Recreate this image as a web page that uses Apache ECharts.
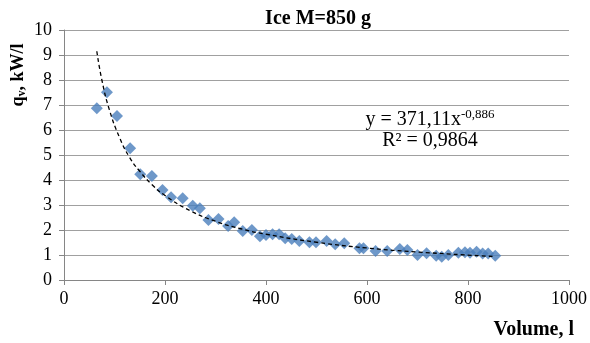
<!DOCTYPE html>
<html><head><meta charset="utf-8">
<script src="https://cdn.jsdelivr.net/npm/echarts@6/dist/echarts.min.js"></script>
<style>html,body{margin:0;padding:0;background:#fff}#c{width:590px;height:343px}</style>
</head><body><div id="c"></div>
<script>
const volume = [65,85,105,131,151,174,195,212,235,255,269,286,306,325,337,354,372,388,400,413,426,438,451,466,486,499,520,537,555,585,593,617,640,665,680,700,718,737,748,761,781,794,804,817,829,840,854];
const qv = [6.87,7.51,6.56,5.27,4.23,4.16,3.6,3.31,3.27,2.97,2.87,2.4,2.44,2.16,2.31,1.96,2.0,1.75,1.8,1.83,1.83,1.67,1.64,1.56,1.51,1.51,1.56,1.43,1.47,1.27,1.27,1.16,1.16,1.24,1.2,1.0,1.07,0.97,0.93,1.0,1.09,1.11,1.09,1.13,1.06,1.06,0.97];
const trendX = [65,75,90,110,130,150,175,200,250,300,350,400,500,600,700,850];
const trendY = [9.15,8.0,6.8,5.7,4.9,4.35,3.8,3.38,2.77,2.35,2.05,1.83,1.51,1.28,1.12,0.94];
const xTicks = [0,200,400,600,800,1000];
const yTicks = [0,1,2,3,4,5,6,7,8,9,10];
const titleText = 'Ice M=850 g';
const eqText = 'y = 371,11x';
const eqExp = '-0,886';
const r2Text = 'R² = 0,9864';

const serif = '"Liberation Serif","Times New Roman",serif';
const chart = echarts.init(document.getElementById('c'), null, {renderer:'canvas'});
chart.setOption({
  animation:false,
  backgroundColor:'#fff',
  grid:{left:64,right:21,top:30,bottom:63,containLabel:false},
  xAxis:{type:'value',min:xTicks[0],max:xTicks[xTicks.length-1],interval:200,
    axisLine:{lineStyle:{color:'#868686'}},
    axisTick:{show:true,length:5,lineStyle:{color:'#868686'}},
    splitLine:{show:false},
    axisLabel:{color:'#000',fontFamily:serif,fontSize:18,margin:10,formatter:v=>String(v)}},
  yAxis:{type:'value',min:yTicks[0],max:yTicks[yTicks.length-1],interval:1,
    axisLine:{show:true,lineStyle:{color:'#868686'}},
    axisTick:{show:true,length:5,lineStyle:{color:'#868686'}},
    splitLine:{show:true,lineStyle:{color:'#a0a0a0',width:1}},
    axisLabel:{color:'#000',fontFamily:serif,fontSize:18,margin:12,formatter:v=>String(v)}},
  graphic:[
    {type:'text',x:318,y:19,style:{text:titleText,font:'bold 20px '+serif,fill:'#000',align:'center',verticalAlign:'middle'}},
    {type:'text',x:18,y:75,rotation:Math.PI/2,style:{
      text:'{a|q}{s|v}{a|, kW/l}',align:'center',verticalAlign:'middle',
      rich:{a:{font:'bold 18px '+serif,fill:'#000'},s:{font:'bold 12px '+serif,fill:'#000',padding:[8,0,0,0]}}}},
    {type:'text',x:574,y:330,style:{text:'Volume, l',font:'bold 20px '+serif,fill:'#000',align:'right',verticalAlign:'middle'}},
    {type:'text',x:430,y:120,style:{
      text:'{a|'+eqText+'}{s|'+eqExp+'}',align:'center',verticalAlign:'middle',
      rich:{a:{font:'20px '+serif,fill:'#000'},s:{font:'13px '+serif,fill:'#000',padding:[0,0,10,0]}}}},
    {type:'text',x:430,y:141,style:{text:r2Text,font:'20px '+serif,fill:'#000',align:'center',verticalAlign:'middle'}}
  ],
  series:[
    {type:'scatter',data:volume.map((v,i)=>[v,qv[i]]),symbol:'diamond',symbolSize:12,
      itemStyle:{color:'#4a7ebb'},z:3},
    {type:'line',data:trendX.map((v,i)=>[v,trendY[i]]),smooth:true,showSymbol:false,symbol:'none',
      lineStyle:{color:'#000',width:1.3,type:[4,3]},z:4}
  ]
});
</script></body></html>
